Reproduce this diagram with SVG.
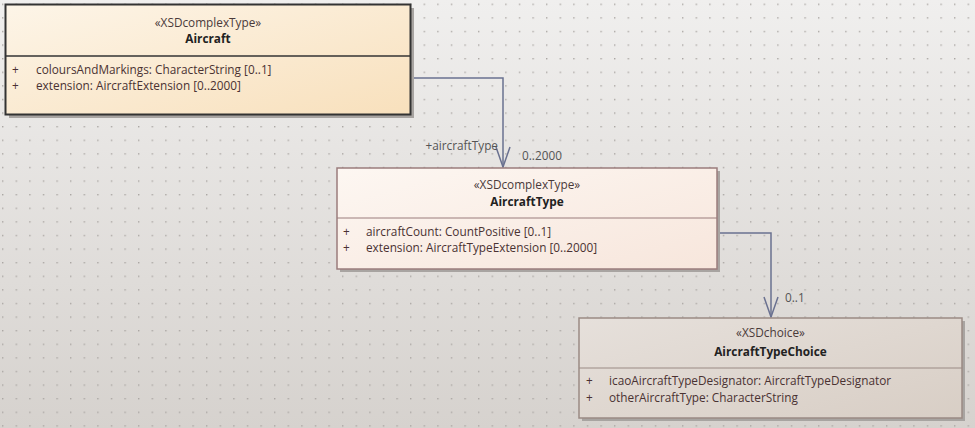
<svg xmlns="http://www.w3.org/2000/svg" width="975" height="428" viewBox="0 0 975 428">
<defs>
<linearGradient id="bg" x1="0" y1="0" x2="0" y2="1"><stop offset="0" stop-color="#f0efee"/><stop offset="1" stop-color="#d6d2ce"/></linearGradient>
<pattern id="dots" x="2" y="3.6" width="13.6" height="13.6" patternUnits="userSpaceOnUse"><rect x="0" y="0" width="1.4" height="1.4" fill="#aaa6a3"/></pattern>
<linearGradient id="gA" x1="0" y1="0" x2="1" y2="1"><stop offset="0" stop-color="#fdf5e8"/><stop offset="1" stop-color="#f8e0bc"/></linearGradient>
<linearGradient id="gT" x1="0" y1="0" x2="1" y2="1"><stop offset="0" stop-color="#fdf7f2"/><stop offset="1" stop-color="#f7e6dc"/></linearGradient>
<linearGradient id="gC" x1="0" y1="0" x2="1" y2="1"><stop offset="0" stop-color="#e6e0db"/><stop offset="1" stop-color="#d8cec5"/></linearGradient>
<style>
text{font-family:"Open Sans","Noto Sans","Liberation Sans",sans-serif;font-size:11.8px;fill:#4a3232}
.st{text-anchor:middle;fill:#4a3a3a}
.nm{text-anchor:middle;font-weight:bold;fill:#222}
.lbl{fill:#555}
.shadow{fill:#a8a4a1}
.conn{fill:none;stroke:#6a7190;stroke-width:1.5}
</style>
</defs>
<rect width="975" height="428" fill="url(#bg)"/>
<rect width="975" height="428" fill="url(#dots)"/>

<g id="connectors">
<polyline class="conn" points="411,78 503,78 503,167"/>
<polyline class="conn" points="496,147 503,167 510,147"/>
<polyline class="conn" points="717,233 771,233 771,317"/>
<polyline class="conn" points="764,297 771,317 778,297"/>
<text class="lbl" x="498" y="150" text-anchor="end">+aircraftType</text>
<text class="lbl" x="522" y="160">0..2000</text>
<text class="lbl" x="785" y="302">0..1</text>
</g>

<g id="Aircraft">
<rect class="shadow" x="9" y="8" width="405" height="110"/>
<rect x="5.5" y="4.5" width="405" height="110" fill="url(#gA)" stroke="#333" stroke-width="2"/>
<line x1="5.5" y1="56" x2="410.5" y2="56" stroke="#333" stroke-width="1.5"/>
<text class="st" x="208" y="27">«XSDcomplexType»</text>
<text class="nm" x="208" y="43">Aircraft</text>
<text x="12" y="74">+</text>
<text x="36" y="74">coloursAndMarkings: CharacterString [0..1]</text>
<text x="12" y="90">+</text>
<text x="36" y="90">extension: AircraftExtension [0..2000]</text>
</g>

<g id="AircraftType">
<rect class="shadow" x="340" y="171" width="380" height="101"/>
<rect x="337" y="168" width="380" height="101" fill="url(#gT)" stroke="#9a7c7c" stroke-width="1.5"/>
<line x1="337" y1="218" x2="717" y2="218" stroke="#9a7c7c" stroke-width="1"/>
<text class="st" x="527" y="189">«XSDcomplexType»</text>
<text class="nm" x="527" y="206">AircraftType</text>
<text x="343" y="236">+</text>
<text x="366" y="236">aircraftCount: CountPositive [0..1]</text>
<text x="343" y="252">+</text>
<text x="366" y="252">extension: AircraftTypeExtension [0..2000]</text>
</g>

<g id="AircraftTypeChoice">
<rect class="shadow" x="582" y="321" width="383" height="100"/>
<rect x="579" y="318" width="383" height="100" fill="url(#gC)" stroke="#9a8a84" stroke-width="1.5"/>
<line x1="579" y1="368" x2="962" y2="368" stroke="#9a8a84" stroke-width="1"/>
<text class="st" x="770.5" y="337">«XSDchoice»</text>
<text class="nm" x="770.5" y="356">AircraftTypeChoice</text>
<text x="586" y="385">+</text>
<text x="609" y="385">icaoAircraftTypeDesignator: AircraftTypeDesignator</text>
<text x="586" y="402">+</text>
<text x="609" y="402">otherAircraftType: CharacterString</text>
</g>
</svg>
